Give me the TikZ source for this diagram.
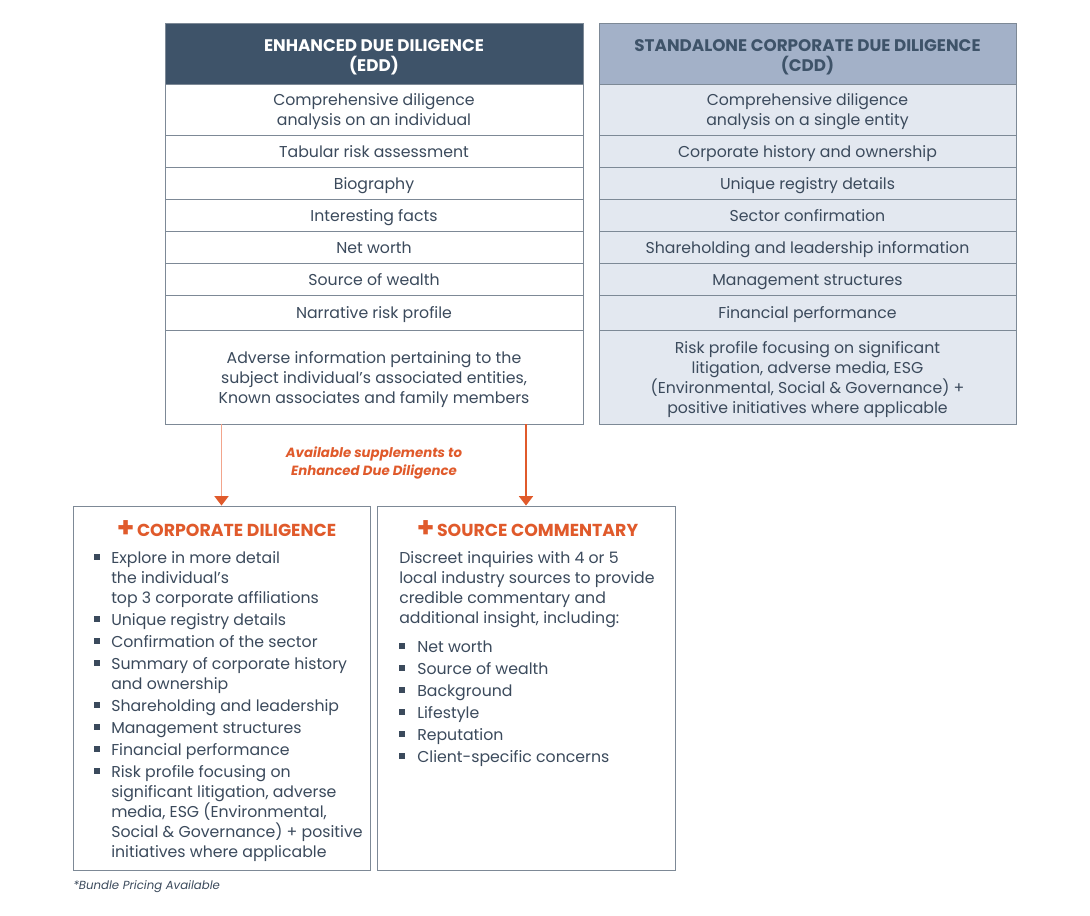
\documentclass[tikz,border=0pt]{standalone}
\usepackage{fontspec}
\setmainfont{Poppins}
\usetikzlibrary{arrows.meta}
\definecolor{txt}{HTML}{3B4A5C}
\definecolor{hdark}{HTML}{3E5369}
\definecolor{hlight}{HTML}{A3B1C8}
\definecolor{blight}{HTML}{E3E8F0}
\definecolor{bord}{HTML}{7D8996}
\definecolor{org}{HTML}{E05A2B}
\definecolor{orglight}{HTML}{F2A58C}
\newcommand\tightls{\lineskiplimit=-30pt\relax\lineskip=0pt\relax}
\newcommand\bodyfont{\fontsize{11.8}{15}\selectfont\tightls}
\newcommand\headfont{\fontsize{12.6}{15}\selectfont\bfseries\tightls}
\newcommand\cstr{\rule[-4.5pt]{0pt}{18pt}}
\newcommand\hstr{\rule[-4.5pt]{0pt}{21pt}}
\newcommand\bitem[5]{%
  \node[bul] (#1b) at (#2,#4) {};
  \node[item] (#1) at (#3,{#4-12}) {\cstr#5};}
\begin{document}
\begin{tikzpicture}[x=0.75pt,y=-0.75pt,
  cell/.style={draw=bord, line width=0.7pt, align=center, text=txt, font=\bodyfont, inner sep=0pt},
  ecell/.style={cell, fill=white, minimum width=313.5pt},
  ccell/.style={cell, fill=blight, minimum width=312.75pt},
  hcell/.style={cell, font=\headfont},
  bigbox/.style={draw=bord, line width=0.7pt, fill=white, inner sep=0pt, minimum height=273pt},
  bul/.style={fill=txt, inner sep=0pt, minimum size=3.8pt},
  item/.style={anchor=north west, inner sep=0pt, align=left, text=txt, font=\bodyfont},
  ttl/.style={text=org, font=\fontsize{13}{15}\selectfont\bfseries, inner sep=0pt},
  tip/.style={-{Triangle[width=10.5pt,length=7pt,fill=org,color=org]}},
  arr/.style={line width=1.1pt, tip}
]
\useasboundingbox[fill=white] (0,0) rectangle (1090,915);

% EDD table
\node[ecell, hcell, fill=hdark, text=white, minimum height=45.75pt] (e0) at (374,53.5) {\hstr ENHANCED DUE DILIGENCE\\\hstr(EDD)};
\node[ecell, minimum height=38.25pt] (e1) at (374,109.5) {\cstr Comprehensive diligence\\\cstr analysis on an individual};
\node[ecell, minimum height=24pt] (e2) at (374,151) {\cstr Tabular risk assessment};
\node[ecell, minimum height=24pt] (e3) at (374,183) {\cstr Biography};
\node[ecell, minimum height=24pt] (e4) at (374,215) {\cstr Interesting facts};
\node[ecell, minimum height=24pt] (e5) at (374,247) {\cstr Net worth};
\node[ecell, minimum height=24pt] (e6) at (374,279) {\cstr Source of wealth};
\node[ecell, minimum height=26.25pt] (e7) at (374,312.5) {\cstr Narrative risk profile};
\node[ecell, minimum height=70.5pt] (e8) at (374,377) {\cstr Adverse information pertaining to the\\\cstr subject individual’s associated entities,\\\cstr Known associates and family members};

% CDD table
\node[ccell, hcell, fill=hlight, text=hdark, minimum height=45.75pt] (c0) at (807.5,53.5) {\hstr STANDALONE CORPORATE DUE DILIGENCE\\\hstr(CDD)};
\node[ccell, minimum height=38.25pt] (c1) at (807.5,109.5) {\cstr Comprehensive diligence\\\cstr analysis on a single entity};
\node[ccell, minimum height=24pt] (c2) at (807.5,151) {\cstr Corporate history and ownership};
\node[ccell, minimum height=24pt] (c3) at (807.5,183) {\cstr Unique registry details};
\node[ccell, minimum height=24pt] (c4) at (807.5,215) {\cstr Sector confirmation};
\node[ccell, minimum height=24pt] (c5) at (807.5,247) {\cstr Shareholding and leadership information};
\node[ccell, minimum height=24pt] (c6) at (807.5,279) {\cstr Management structures};
\node[ccell, minimum height=26.25pt] (c7) at (807.5,312.5) {\cstr Financial performance};
\node[ccell, minimum height=70.5pt] (c8) at (807.5,377) {\cstr Risk profile focusing on significant\\\cstr litigation, adverse media, ESG\\\cstr(Environmental, Social \& Governance) +\\\cstr positive initiatives where applicable};

% label
\node[text=org, align=center, font=\fontsize{10}{13.5}\selectfont\bfseries\itshape] (sup) at (374,463) {Available supplements to\\Enhanced Due Diligence};

% bottom boxes
\node[bigbox, minimum width=222.75pt] (cd) at (221.5,688) {};
\node[bigbox, minimum width=223.5pt] (sc) at (526,688) {};

\draw[arr, draw=orglight] (cd.north |- e8.south) -- (cd.north);
\draw[arr, draw=org] (sc.north |- e8.south) -- (sc.north);

% titles
\node[ttl] (cdt) at (226.5,529) {{\fontsize{21}{21}\selectfont\raisebox{-0.6pt}{+}}\hspace{2pt}CORPORATE DILIGENCE};
\node[ttl] (sct) at (527.5,529) {{\fontsize{21}{21}\selectfont\raisebox{-0.6pt}{+}}\hspace{2pt}SOURCE COMMENTARY};

% left list
\bitem{l1}{97}{111}{557}{Explore in more detail\\the individual’s\\top 3 corporate affiliations}
\bitem{l2}{97}{111}{619}{Unique registry details}
\bitem{l3}{97}{111}{641}{Confirmation of the sector}
\bitem{l4}{97}{111}{663}{Summary of corporate history\\and ownership}
\bitem{l5}{97}{111}{705}{Shareholding and leadership}
\bitem{l6}{97}{111}{727}{Management structures}
\bitem{l7}{97}{111}{749}{Financial performance}
\bitem{l8}{97}{111}{771}{Risk profile focusing on\\significant litigation, adverse\\media, ESG (Environmental,\\Social \& Governance) + positive\\initiatives where applicable}

% right box
\node[item] (scp) at (399,{557-12}) {\cstr Discreet inquiries with 4 or 5\\local industry sources to provide\\credible commentary and\\additional insight, including:};
\bitem{r1}{402}{417}{646}{Net worth}
\bitem{r2}{402}{417}{668}{Source of wealth}
\bitem{r3}{402}{417}{690}{Background}
\bitem{r4}{402}{417}{712}{Lifestyle}
\bitem{r5}{402}{417}{734}{Reputation}
\bitem{r6}{402}{417}{756}{Client-specific concerns}

% footer
\node[anchor=west, inner sep=0pt, text=txt, font=\fontsize{8.8}{10}\selectfont\itshape] (foot) at (73,887) {*Bundle Pricing Available};
\end{tikzpicture}
\end{document}
